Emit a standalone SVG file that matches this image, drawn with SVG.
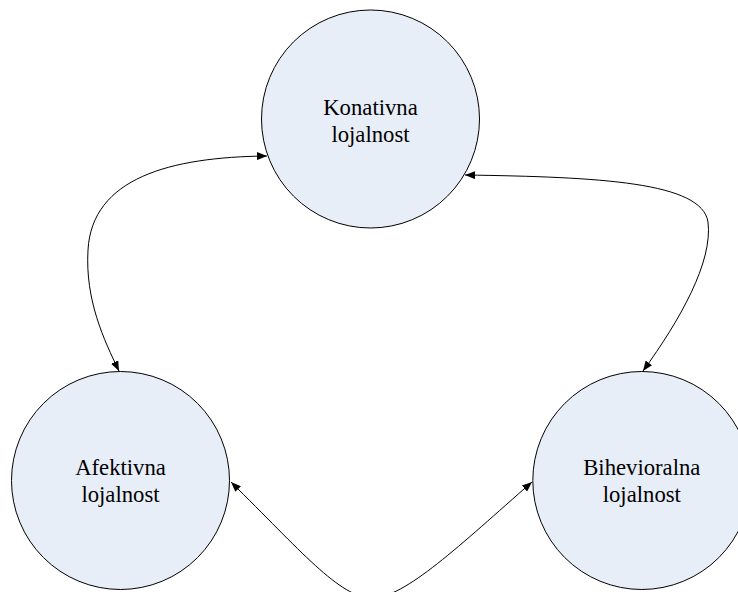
<svg xmlns="http://www.w3.org/2000/svg" width="738" height="592" viewBox="0 0 738 592">
  <defs>
    <marker id="arrow" viewBox="0 0 10 8" refX="10" refY="4" markerWidth="10" markerHeight="8" markerUnits="userSpaceOnUse" orient="auto-start-reverse">
      <path d="M0,0 L10,4 L0,8 Z" fill="#000"/>
    </marker>
    <style>
      .node { fill: #e8eef8; stroke: #000; stroke-width: 1; }
      .label { font-family: "Liberation Serif", "Times New Roman", serif; font-size: 22.7px; fill: #000; text-anchor: middle; }
      .edge { fill: none; stroke: #000; stroke-width: 1; marker-start: url(#arrow); marker-end: url(#arrow); }
    </style>
  </defs>
  <rect width="738" height="592" fill="#fff"/>

  <g id="connectors">
    <path class="edge" d="M267,156 C170,157 92,178 88,250 C85,300 104,340 119,371"/>
    <path class="edge" d="M465,175 C600,177 702,182 708,222 C713,262 680,320 643,371"/>
    <path class="edge" d="M231,482 C300,550 340,598 372,598 C405,598 460,545 532,482"/>
  </g>

  <g id="konativna">
    <circle class="node" cx="370.5" cy="119" r="109"/>
    <text class="label" x="370.5" y="115">Konativna</text>
    <text class="label" x="370.5" y="141.7">lojalnost</text>
  </g>

  <g id="afektivna">
    <circle class="node" cx="120.5" cy="480.5" r="109"/>
    <text class="label" x="120.5" y="475">Afektivna</text>
    <text class="label" x="120.5" y="501.7">lojalnost</text>
  </g>

  <g id="bihevioralna">
    <circle class="node" cx="641.8" cy="480.5" r="109"/>
    <text class="label" x="641.8" y="475">Bihevioralna</text>
    <text class="label" x="641.8" y="501.7">lojalnost</text>
  </g>
</svg>
